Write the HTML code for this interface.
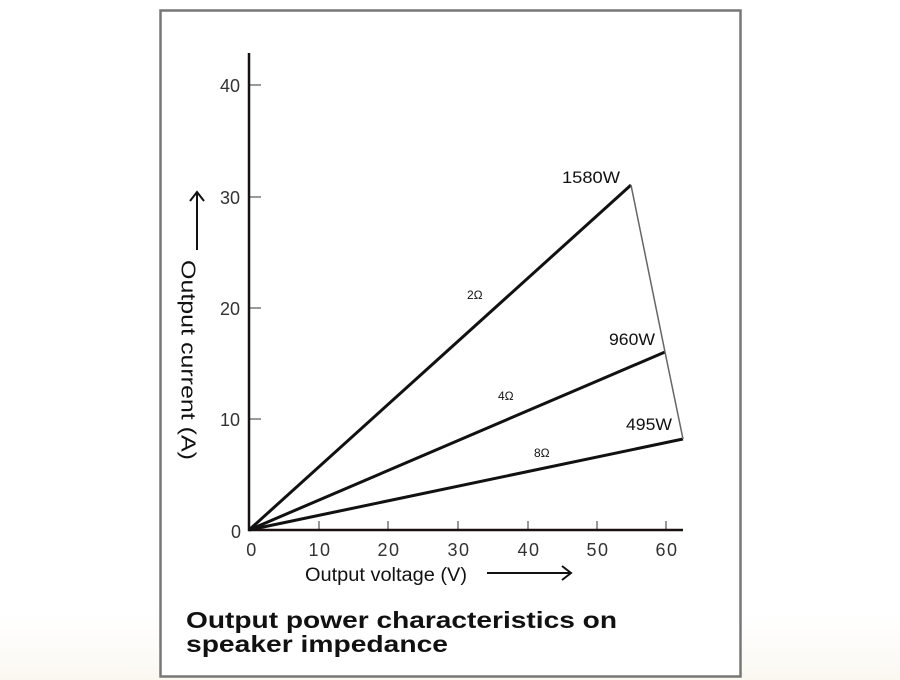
<!DOCTYPE html>
<html><head><meta charset="utf-8"><style>
html,body{margin:0;padding:0;background:#fff;}
svg{display:block;}
text{font-family:"Liberation Sans",sans-serif;}
</style></head><body>
<svg width="900" height="680" viewBox="0 0 900 680" xmlns="http://www.w3.org/2000/svg">
<defs><linearGradient id="bg" x1="0" y1="0" x2="0" y2="1"><stop offset="0.9" stop-color="#fff"/><stop offset="1" stop-color="#fbf8f2"/></linearGradient></defs>
<rect width="900" height="680" fill="url(#bg)"/>
<rect x="160.5" y="10.5" width="580" height="666" fill="#fff" stroke="#777" stroke-width="2.5"/>
<g stroke="#999" stroke-width="2">
<line x1="250" y1="85" x2="261" y2="85"/><line x1="250" y1="197" x2="261" y2="197"/>
<line x1="250" y1="308" x2="261" y2="308"/><line x1="250" y1="419" x2="261" y2="419"/>
<line x1="319" y1="521" x2="319" y2="530"/><line x1="388" y1="521" x2="388" y2="530"/>
<line x1="458" y1="521" x2="458" y2="530"/><line x1="528" y1="521" x2="528" y2="530"/>
<line x1="597" y1="521" x2="597" y2="530"/><line x1="666" y1="521" x2="666" y2="530"/>
</g>
<line x1="249" y1="53" x2="249" y2="531" stroke="#1a1010" stroke-width="2.5"/>
<line x1="248" y1="530" x2="683" y2="530" stroke="#1a1010" stroke-width="2.5"/>
<g stroke="#111" stroke-width="3">
<line x1="249" y1="530" x2="631" y2="185"/>
<line x1="249" y1="530" x2="665" y2="352"/>
<line x1="249" y1="530" x2="683" y2="439"/>
</g>
<polyline points="631,185 665,352 683,439" fill="none" stroke="#666" stroke-width="1.5"/>
<g fill="#333" font-size="18" text-anchor="end">
<text x="240" y="92">40</text><text x="240" y="204">30</text><text x="240" y="315">20</text><text x="240" y="426">10</text><text x="241" y="538">0</text>
</g>
<g fill="#333" font-size="18" text-anchor="middle" letter-spacing="1.5">
<text x="252" y="556">0</text><text x="320" y="556">10</text><text x="389" y="556">20</text><text x="459" y="556">30</text><text x="529" y="556">40</text><text x="598" y="556">50</text><text x="667" y="556">60</text>
</g>
<text x="305" y="581" font-size="19" fill="#111" textLength="162" lengthAdjust="spacingAndGlyphs">Output voltage (V)</text>
<line x1="487" y1="573" x2="570" y2="573" stroke="#111" stroke-width="2"/>
<polyline points="562,566 571,573 562,580" fill="none" stroke="#111" stroke-width="2"/>
<g transform="translate(187,260) rotate(90)">
<text x="0" y="0" font-size="20" fill="#111" dominant-baseline="middle" textLength="200" lengthAdjust="spacingAndGlyphs">Output current (A)</text>
</g>
<line x1="197" y1="193" x2="197" y2="250" stroke="#111" stroke-width="2"/>
<polyline points="190,201 197,192 204,201" fill="none" stroke="#111" stroke-width="2"/>
<g fill="#111">
<text x="562" y="183" font-size="17" textLength="58" lengthAdjust="spacingAndGlyphs">1580W</text>
<text x="609" y="345" font-size="17" textLength="46" lengthAdjust="spacingAndGlyphs">960W</text>
<text x="626" y="430" font-size="17" textLength="46" lengthAdjust="spacingAndGlyphs">495W</text>
<text x="467" y="299" font-size="12">2Ω</text>
<text x="498" y="400" font-size="12">4Ω</text>
<text x="534" y="457" font-size="12">8Ω</text>
</g>
<g fill="#111" font-size="23" font-weight="bold">
<text x="186" y="628" textLength="431" lengthAdjust="spacingAndGlyphs">Output power characteristics on</text>
<text x="186" y="652" textLength="262" lengthAdjust="spacingAndGlyphs">speaker impedance</text>
</g>
</svg>
</body></html>
